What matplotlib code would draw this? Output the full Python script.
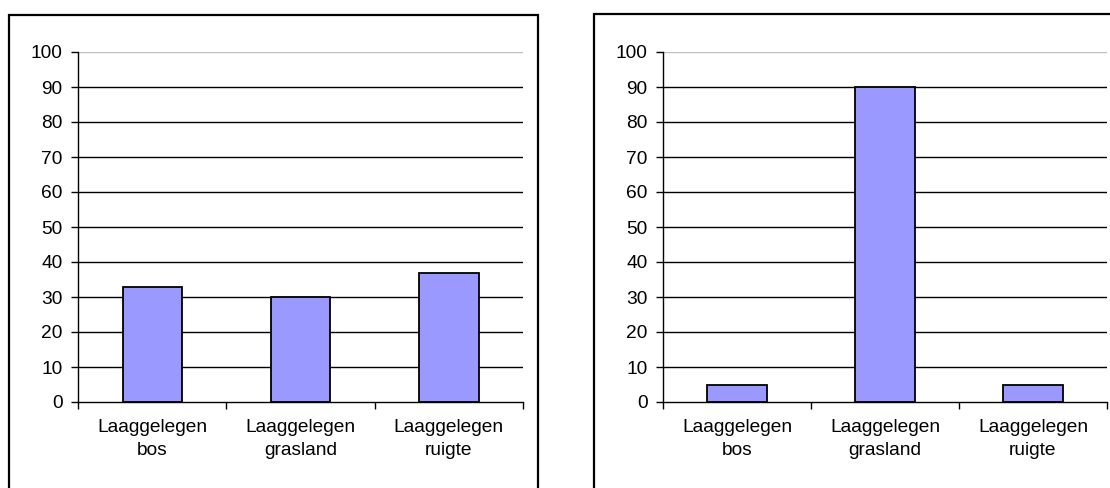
import numpy as np
import matplotlib
matplotlib.use("Agg")
import matplotlib.pyplot as plt
from matplotlib.patches import Rectangle

plt.rcParams['font.family'] = ['Liberation Sans', 'DejaVu Sans']

# data
categories = ['Laaggelegen\nbos', 'Laaggelegen\ngrasland', 'Laaggelegen\nruigte']
values_left = [33, 30, 37]
values_right = [5, 90, 5]
yticks = list(range(0, 101, 10))

bar_color = '#9999FF'

fig = plt.figure(figsize=(11.1, 4.88), dpi=100)

W, H = 1110, 488


def fx(px):
    return px / W


def fy(py):
    return 1 - py / H


# outer chart frames (figure coords)
for x0, x1, y0 in [(9, 538, 15), (594, 1160, 14)]:
    fig.patches.append(Rectangle((fx(x0), fy(H + 20)), fx(x1) - fx(x0), fy(y0) - fy(H + 20),
                                 transform=fig.transFigure, fill=False,
                                 edgecolor='black', linewidth=1.6, zorder=0))


def draw_panel(rect, values):
    ax = fig.add_axes(rect)
    x = np.arange(len(categories))
    ax.bar(x, values, width=0.4, color=bar_color, edgecolor='black',
           linewidth=1.3, zorder=3)
    ax.set_xlim(-0.5, len(categories) - 0.5)
    ax.set_ylim(0, 100)
    ax.set_yticks(yticks)
    # gridlines: grey at top, black elsewhere
    for v in yticks[1:]:
        ax.axhline(v, color='#C0C0C0' if v == 100 else 'black',
                   linewidth=1.0, zorder=1)
    ax.set_xticks(np.arange(-0.5, len(categories), 1.0))
    ax.set_xticklabels([])
    ax.set_xticks(x, minor=True)
    ax.set_xticklabels(categories, minor=True, fontsize=13.8, linespacing=1.45)
    ax.tick_params(axis='x', which='minor', length=0, pad=12)
    ax.tick_params(axis='x', which='major', length=5, width=1.0, direction='out')
    ax.tick_params(axis='y', length=5, width=1.0, direction='out',
                   labelsize=13.8, pad=6)
    for s in ['top', 'right']:
        ax.spines[s].set_visible(False)
    for s in ['left', 'bottom']:
        ax.spines[s].set_linewidth(1.0)
        ax.spines[s].set_zorder(4)
    return ax


draw_panel([fx(78), fy(402), fx(523) - fx(78), fy(52) - fy(402)], values_left)
draw_panel([fx(663), fy(402), fx(1107) - fx(663), fy(52) - fy(402)], values_right)

fig.savefig('out.png', dpi=100)
